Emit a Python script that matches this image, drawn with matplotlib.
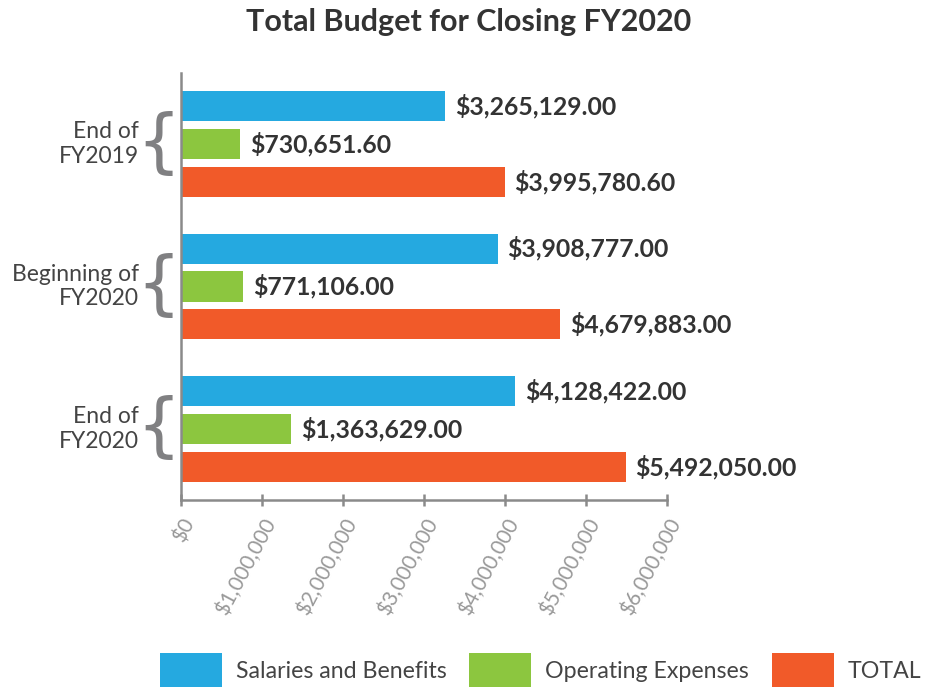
import matplotlib
matplotlib.use("Agg")
import matplotlib.pyplot as plt
from matplotlib.patches import Patch
import numpy as np

plt.rcParams['font.family'] = ['Lato', 'DejaVu Sans']

groups = ["End of\nFY2019", "Beginning of\nFY2020", "End of\nFY2020"]
series = ["Salaries and Benefits", "Operating Expenses", "TOTAL"]
salaries = [3265129.00, 3908777.00, 4128422.00]
operating = [730651.60, 771106.00, 1363629.00]
total = [3995780.60, 4679883.00, 5492050.00]
xticks = [0, 1000000, 2000000, 3000000, 4000000, 5000000, 6000000]
xticklabels = ["$0", "$1,000,000", "$2,000,000", "$3,000,000", "$4,000,000", "$5,000,000", "$6,000,000"]

colors = ["#25A9E0", "#8CC63F", "#F15A29"]
axis_gray = "#8a8a8a"

fig = plt.figure(figsize=(9.27, 6.87), dpi=100)
ax = fig.add_axes([181/927, 1-500/687, (667-181)/927, (500-73)/687])

group_step = 3.75
vals = [salaries, operating, total]
for si, (name, v) in enumerate(zip(series, vals)):
    ys = np.arange(len(groups)) * group_step + si
    ax.barh(ys, v, height=0.79, color=colors[si], label=name, zorder=2)
    for y, val in zip(ys, v):
        ax.annotate(f"${val:,.2f}", (val, y), xytext=(7, 0), textcoords="offset points",
                    ha="left", va="center", fontsize=17.8, fontweight="bold", color="#333333")

ax.set_ylim(10.37, -0.87)
ax.set_xlim(0, 6000000)
ax.set_xticks(xticks)
ax.set_xticklabels(xticklabels, rotation=62, ha="right", va="top", rotation_mode="anchor",
                   fontsize=15, color="#999999")
ax.set_yticks([])
ax.tick_params(axis="x", direction="inout", length=9, width=1.8, color=axis_gray, pad=6)

for s in ["top", "right"]:
    ax.spines[s].set_visible(False)
for s in ["left", "bottom"]:
    ax.spines[s].set_color(axis_gray)
    ax.spines[s].set_linewidth(1.8)

# group labels and braces
for gi, g in enumerate(groups):
    yc = gi * group_step + 1
    ax.text(-0.086, yc, g, transform=ax.get_yaxis_transform(), ha="right", va="center",
            fontsize=16.5, color="#444444", linespacing=1.2)
    ax.text(-0.047, yc, "{", transform=ax.get_yaxis_transform(), ha="center", va="center",
            fontsize=50, color="#808082", family="DejaVu Sans")

fig.text(0.505, 1-22/687, "Total Budget for Closing FY2020", ha="center", va="center",
         fontsize=22, fontweight="bold", color="#333333")

handles = [Patch(facecolor=c, edgecolor="none") for c in colors]
fig.legend(handles, series, loc="lower left", bbox_to_anchor=(160/927, -1/687), ncol=3,
           frameon=False, fontsize=16.7, handlelength=2.68, handleheight=1.95,
           handletextpad=0.6, columnspacing=0.97, borderpad=0, borderaxespad=0,
           labelcolor="#444444")

fig.savefig("out.png", dpi=100)
